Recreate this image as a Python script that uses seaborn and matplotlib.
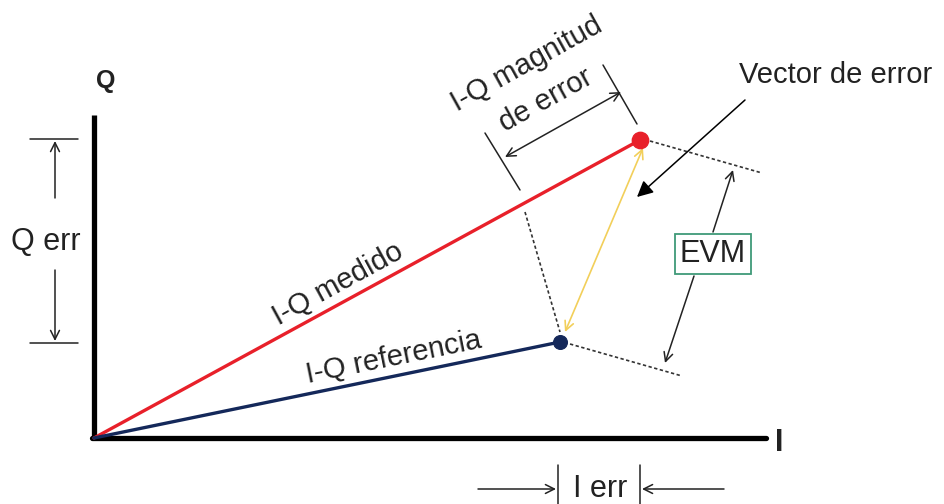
import matplotlib
matplotlib.use("Agg")
import matplotlib.pyplot as plt
import seaborn as sns
import pandas as pd

# Vectores I-Q (unidades en pixeles, origen en el cruce de ejes)
vectores = ['I-Q medido', 'I-Q referencia']
valores_i = [546, 466]
valores_q = [298, 96]
colores = ['#e8202a', '#14285a']
tamanos = [140, 100]

ORIGEN = (94, 438)


def px(x, y):
    # convierte coordenadas de pantalla a coordenadas I-Q
    return (x - ORIGEN[0], ORIGEN[1] - y)


def linea(ax, p1, p2, **kw):
    a, b = px(*p1), px(*p2)
    ax.plot([a[0], b[0]], [a[1], b[1]], **kw)


def flecha(ax, p_ini, p_fin, estilo='->', color='#222222', lw=1.1, ms=16):
    ax.annotate('', xy=px(*p_fin), xytext=px(*p_ini),
                arrowprops=dict(arrowstyle=estilo, color=color, lw=lw,
                                mutation_scale=ms, shrinkA=0, shrinkB=0))


def texto(ax, p, s, rot=0, size=22, **kw):
    ax.text(*px(*p), s, rotation=rot, rotation_mode='anchor', ha='center', va='center',
            fontsize=size, color='#222222', **kw)


sns.set_style('white')
plt.rcParams['font.family'] = ['Liberation Sans', 'DejaVu Sans']

fig = plt.figure(figsize=(9.44, 5.04), dpi=100)
ax = fig.add_axes([0, 0, 1, 1])
ax.set_xlim(-ORIGEN[0], 944 - ORIGEN[0])
ax.set_ylim(ORIGEN[1] - 504, ORIGEN[1])
ax.axis('off')

# Ejes I y Q
linea(ax, (94, 440), (94, 115), color='black', lw=3.8, solid_capstyle='butt')
linea(ax, (92, 438), (766, 438), color='black', lw=3.8, solid_capstyle='round')
texto(ax, (106, 81), 'Q', size=18, fontweight='bold')
texto(ax, (779, 443), 'I', size=22, fontweight='bold')

# Vectores
for nombre, i, q, c, s in zip(vectores, valores_i, valores_q, colores, tamanos):
    df = pd.DataFrame({'I': [0, i], 'Q': [0, q]})
    sns.lineplot(data=df, x='I', y='Q', color=c, lw=2.4, ax=ax, sort=False, zorder=3)
    sns.scatterplot(x=[i], y=[q], color=c, s=s, ax=ax, zorder=4, edgecolor=c)

texto(ax, (338, 284), 'I-Q medido', rot=28.6, size=21)
texto(ax, (394, 357), 'I-Q referencia', rot=11.5, size=21)

# Q err
linea(ax, (30, 139), (78, 139), color='#222222', lw=1.1)
linea(ax, (30, 343), (78, 343), color='#222222', lw=1.1)
flecha(ax, (55, 198), (55, 141))
flecha(ax, (55, 270), (55, 341))
texto(ax, (46, 242), 'Q err', size=22)

# I err
linea(ax, (558, 465), (558, 504), color='#222222', lw=1.1)
linea(ax, (640, 465), (640, 504), color='#222222', lw=1.1)
flecha(ax, (478, 489), (556, 489))
flecha(ax, (724, 489), (642, 489))
texto(ax, (600, 489), 'I err', size=22)

# Magnitud de error
linea(ax, (485, 133), (520, 190), color='#222222', lw=1.1)
linea(ax, (603, 65), (637, 124), color='#222222', lw=1.1)
flecha(ax, (505, 157), (621, 92), estilo='<->')
texto(ax, (527, 64), 'I-Q magnitud', rot=29, size=21)
texto(ax, (546, 100), 'de error', rot=29, size=21)

# Proyeccion punteada
linea(ax, (525, 212), (560, 332), color='#333333', lw=1.2, ls=(0, (2, 1.5)))
linea(ax, (650, 141), (762, 173), color='#333333', lw=1.2, ls=(0, (2, 1.5)))
linea(ax, (570, 344), (682, 376), color='#333333', lw=1.2, ls=(0, (2, 1.5)))

# Vector de error
flecha(ax, (643, 148), (565, 332), estilo='<->', color='#f2cf5a', lw=1.2)
ax.annotate('', xy=px(637, 197), xytext=px(745, 100),
            arrowprops=dict(arrowstyle='-|>', color='black', lw=1.1,
                            mutation_scale=24, shrinkA=0, shrinkB=0))
texto(ax, (836, 75), 'Vector de error', size=21)

# EVM
flecha(ax, (713, 232), (733, 170))
flecha(ax, (694, 276), (665, 363))
ax.text(*px(713, 254), 'EVM', ha='center', va='center', fontsize=22, color='#222222',
        bbox=dict(boxstyle='square,pad=0.15', fc='white', ec='#3f9a78', lw=1.3))

fig.savefig('out.png', dpi=100)
